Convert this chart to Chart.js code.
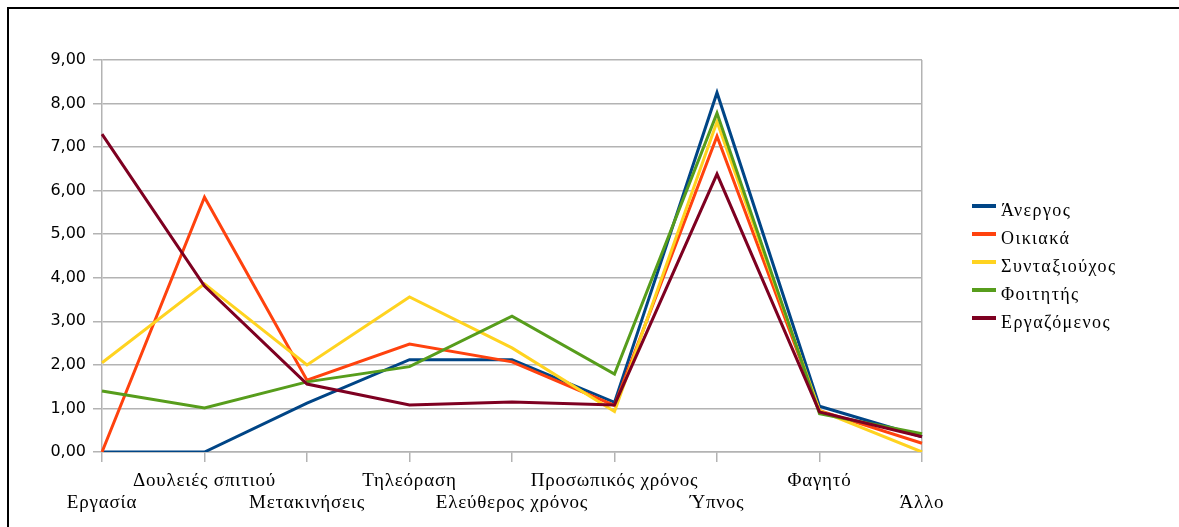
<!DOCTYPE html>
<html>
<head>
<meta charset="utf-8">
<script src="https://cdn.jsdelivr.net/npm/chart.js@4/dist/chart.umd.min.js"></script>
<style>
  html, body { margin: 0; padding: 0; background: #fff; overflow: hidden; }
  #frame { position: absolute; left: 7px; top: 7px; width: 1300px; height: 700px; border: 2px solid #000; }
  #wrap { position: absolute; left: 0; top: 0; width: 1179px; height: 527px; }
</style>
</head>
<body>
<div id="frame"></div>
<div id="wrap"><canvas id="chart" width="1179" height="527"></canvas></div>
<script>
// categories (x axis)
var categories = ["Εργασία", "Δουλειές σπιτιού", "Μετακινήσεις", "Τηλεόραση", "Ελεύθερος χρόνος",
  "Προσωπικός χρόνος", "Ύπνος", "Φαγητό", "Άλλο"];

// series values
var anergos      = [0.00, 0.00, 1.12, 2.12, 2.12, 1.14, 8.25, 1.05, 0.35];
var oikiaka      = [0.00, 5.85, 1.65, 2.48, 2.07, 1.07, 7.25, 0.95, 0.20];
var syntaxiouxos = [2.05, 3.86, 2.00, 3.56, 2.39, 0.93, 7.58, 0.95, 0.00];
var foititis     = [1.40, 1.01, 1.61, 1.96, 3.12, 1.79, 7.78, 0.88, 0.42];
var ergazomenos  = [7.30, 3.81, 1.56, 1.08, 1.15, 1.08, 6.38, 0.92, 0.35];

var seriesNames = ["Άνεργος", "Οικιακά", "Συνταξιούχος", "Φοιτητής", "Εργαζόμενος"];
var seriesColors = ["#004586", "#ff420e", "#ffd320", "#579d1c", "#7e0021"];
var seriesData = [anergos, oikiaka, syntaxiouxos, foititis, ergazomenos];

var gridColor = "#b3b3b3";

// legend drawn at the right, lines + serif text
var sideLegend = {
  id: "sideLegend",
  afterDraw: function (chart) {
    var ctx = chart.ctx;
    ctx.save();
    ctx.font = "18px 'Liberation Serif'";
    ctx.letterSpacing = "1.4px";
    ctx.textBaseline = "middle";
    ctx.textAlign = "left";
    chart.data.datasets.forEach(function (ds, i) {
      var y = 206 + i * 28;
      ctx.strokeStyle = ds.borderColor;
      ctx.lineWidth = 4;
      ctx.beginPath();
      ctx.moveTo(972, y);
      ctx.lineTo(996, y);
      ctx.stroke();
      ctx.fillStyle = "#000";
      ctx.fillText(ds.label, 1001, y + 5);
    });
    ctx.restore();
  }
};

var datasets = seriesNames.map(function (name, i) {
  return {
    label: name,
    data: seriesData[i],
    borderColor: seriesColors[i],
    backgroundColor: seriesColors[i],
    borderWidth: 3,
    pointRadius: 0,
    tension: 0,
    order: seriesNames.length - i
  };
});

new Chart(document.getElementById("chart"), {
  type: "line",
  data: { labels: categories, datasets: datasets },
  plugins: [sideLegend],
  options: {
    responsive: false,
    animation: false,
    layout: { padding: { top: 60, right: 257, left: 0, bottom: 0 } },
    plugins: {
      legend: { display: false },
      tooltip: { enabled: false }
    },
    scales: {
      x: {
        offset: false,
        grid: {
          lineWidth: 1.5,
          tickLength: 10,
          tickColor: gridColor,
          // only the right edge line is drawn inside the plot
          color: function (c) { return c.index === categories.length - 1 ? gridColor : "rgba(0,0,0,0)"; }
        },
        border: { color: gridColor, width: 1.5 },
        ticks: {
          autoSkip: false,
          maxRotation: 0,
          minRotation: 0,
          padding: 8,
          color: "#000",
          font: { family: "'Liberation Serif'", size: 19, lineHeight: 1.17 },
          callback: function (value, index) {
            var lbl = categories[index];
            return index % 2 === 0 ? ["", lbl] : [lbl];
          }
        },
        afterFit: function (scale) { scale.height = 75; },
        afterUpdate: function (scale) {
          // slightly wider letter spacing for category names
          if (!scale._spaced) {
            var orig = scale.drawLabels;
            scale.drawLabels = function (area) {
              this.ctx.save();
              this.ctx.letterSpacing = "0.8px";
              orig.call(this, area);
              this.ctx.restore();
            };
            scale._spaced = true;
          }
        }
      },
      y: {
        min: 0,
        max: 9,
        grid: { color: gridColor, lineWidth: 1.5, tickLength: 9 },
        border: { color: gridColor, width: 1.5 },
        ticks: {
          stepSize: 1,
          padding: 7,
          color: "#000",
          font: { family: "'DejaVu Sans'", size: 16 },
          callback: function (v) { return v.toFixed(2).replace(".", ","); }
        },
        afterFit: function (scale) { scale.width = 102; }
      }
    }
  }
});
</script>
</body>
</html>
